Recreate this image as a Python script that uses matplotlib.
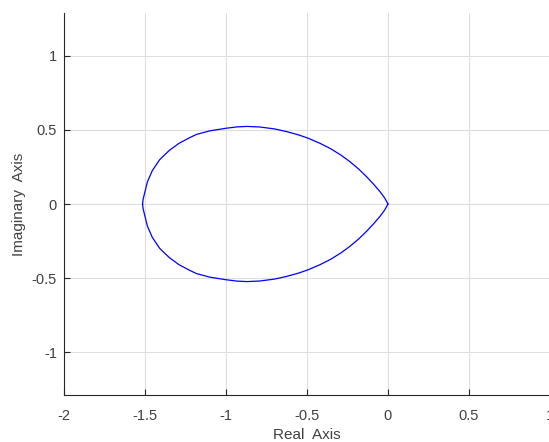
import numpy as np
import matplotlib
matplotlib.use("Agg")
import matplotlib.pyplot as plt

plt.rcParams['font.family'] = ['Liberation Sans', 'DejaVu Sans']

# Upper branch of the Nyquist curve, lower is its mirror
re_upper = [-1.515, -1.512, -1.502, -1.485, -1.455, -1.409, -1.35, -1.29, -1.224,
            -1.182, -1.10, -0.997, -0.93, -0.87, -0.79, -0.70, -0.626, -0.55,
            -0.492, -0.42, -0.358, -0.29, -0.235, -0.18, -0.132, -0.09, -0.049,
            -0.02, 0.0]
im_upper = [0.0, 0.03, 0.075, 0.15, 0.225, 0.30, 0.362, 0.41, 0.448,
            0.47, 0.494, 0.512, 0.521, 0.524, 0.52, 0.507, 0.489, 0.466,
            0.444, 0.41, 0.376, 0.33, 0.286, 0.235, 0.184, 0.135, 0.083,
            0.04, 0.0]

x_ticks = [-2, -1.5, -1, -0.5, 0, 0.5, 1]
y_ticks = [-1, -0.5, 0, 0.5, 1]

re = np.array(re_upper)
im = np.array(im_upper)

fig = plt.figure(figsize=(5.49, 4.42), dpi=100)
ax = fig.add_axes([64 / 549, 47 / 442, 486 / 549, 382 / 442])

ax.plot(re, im, color='#0000ff', lw=0.9)
ax.plot(re, -im, color='#0000ff', lw=0.9)

ax.set_xlim(-2, 1)
ax.set_ylim(-1.29, 1.29)
ax.set_xticks(x_ticks)
ax.set_xticklabels([f"{t:g}" for t in x_ticks])
ax.set_yticks(y_ticks)
ax.set_yticklabels([f"{t:g}" for t in y_ticks])

ax.grid(True, color='#dedede', lw=0.8)
ax.set_axisbelow(True)
for s in ['top', 'right']:
    ax.spines[s].set_visible(False)
for s in ['left', 'bottom']:
    ax.spines[s].set_color('#262626')
    ax.spines[s].set_linewidth(0.8)

ax.tick_params(direction='in', length=4, width=0.8, color='#262626',
               labelcolor='#404040', labelsize=10.5)
ax.tick_params(axis='x', pad=10)
ax.tick_params(axis='y', pad=5)

ax.set_xlabel("Real  Axis", fontsize=11, color='#404040', labelpad=4)
ax.set_ylabel("Imaginary  Axis", fontsize=11, color='#404040', labelpad=4)

fig.savefig("out.png", dpi=100)
